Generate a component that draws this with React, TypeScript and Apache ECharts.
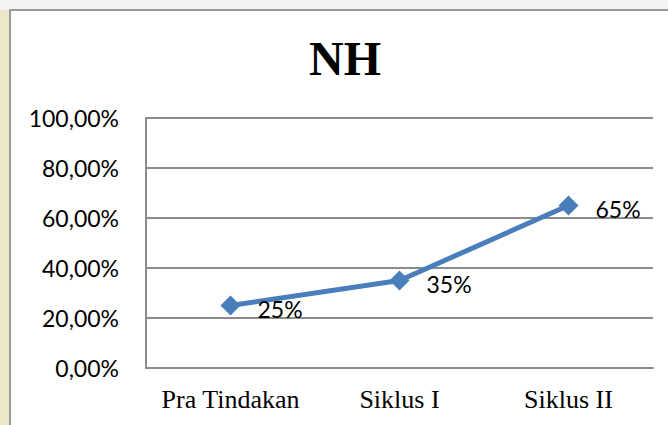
import React, { useEffect, useRef } from "react";
import * as echarts from "echarts";

const categories = ["Pra Tindakan", "Siklus I", "Siklus II"];
const values = [25, 35, 65];
const yTicks = [0, 20, 40, 60, 80, 100];
const title = "NH";

export default function App() {
  const ref = useRef<HTMLDivElement>(null);
  useEffect(() => {
    document.body.style.margin = "0";
    const chart = echarts.init(ref.current!, null, { renderer: "svg" });
    chart.setOption({
      animation: false,
      backgroundColor: "#ffffff",
      graphic: [
        { type: "rect", z: -10, shape: { x: 0, y: 0, width: 10, height: 425 }, style: { fill: "#ece8c6" } },
        { type: "rect", z: -10, shape: { x: 0, y: 0, width: 668, height: 10 }, style: { fill: "#f4f4f2" } },
        { type: "rect", z: -5, shape: { x: 10, y: 10, width: 700, height: 500 }, style: { fill: "#ffffff", stroke: "#9a9a9a", lineWidth: 2 } },
        {
          type: "text",
          x: 345,
          y: 58,
          style: {
            text: title,
            font: "bold 48px 'Liberation Serif', 'Times New Roman', serif",
            fill: "#000",
            textAlign: "center",
            textVerticalAlign: "middle",
          },
        },
      ],
      grid: { left: 146, right: 15, top: 118, bottom: 57, containLabel: false },
      xAxis: {
        type: "category",
        data: categories,
        boundaryGap: true,
        axisLine: { show: true, lineStyle: { color: "#8c8c8c", width: 2 } },
        axisTick: { show: false },
        axisLabel: {
          interval: 0,
          hideOverlap: false,
          color: "#000",
          fontFamily: "'Liberation Serif', 'Times New Roman', serif",
          fontSize: 26,
          margin: 18,
        },
      },
      yAxis: {
        type: "value",
        min: 0,
        max: 100,
        interval: 20,
        axisLine: { show: true, lineStyle: { color: "#8c8c8c", width: 2 } },
        axisTick: { show: false },
        splitLine: { show: true, lineStyle: { color: "#8c8c8c", width: 2 } },
        axisLabel: {
          color: "#000",
          fontFamily: "Lato, 'Noto Sans', sans-serif",
          fontSize: 23,
          margin: 27,
          formatter: (v: number) => (yTicks.includes(v) ? v.toFixed(2).replace(".", ",") + "%" : ""),
        },
      },
      series: [
        {
          type: "line",
          data: values,
          symbol: "diamond",
          symbolSize: 20,
          lineStyle: { color: "#4a7ebb", width: 5 },
          itemStyle: { color: "#4a7ebb" },
          label: {
            show: true,
            position: "right",
            distance: 17,
            offset: [0, 3],
            color: "#000",
            fontFamily: "Lato, 'Noto Sans', sans-serif",
            fontSize: 23,
            formatter: (p: any) => p.value + "%",
          },
        },
      ],
    });
    return () => chart.dispose();
  }, []);
  return <div ref={ref} style={{ width: 668, height: 425 }} />;
}
